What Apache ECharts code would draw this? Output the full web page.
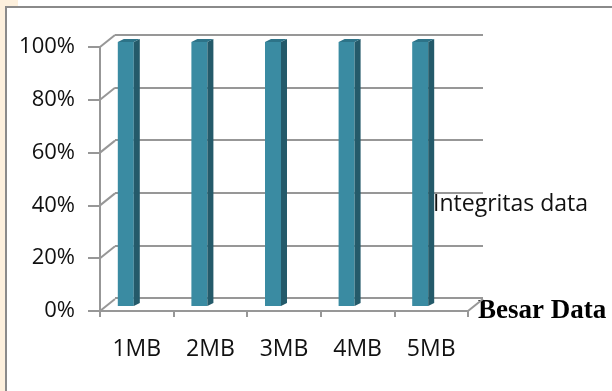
<!DOCTYPE html>
<html>
<head>
<meta charset="utf-8">
<script src="https://cdn.jsdelivr.net/npm/echarts@6/dist/echarts.min.js"></script>
<style>
  html, body { margin: 0; padding: 0; background: #ffffff; }
  #chart { width: 612px; height: 391px; }
</style>
</head>
<body>
<div id="chart"></div>
<script>
// Data
const categories = ['1MB', '2MB', '3MB', '4MB', '5MB'];
const integritas = [1, 1, 1, 1, 1];
const seriesName = 'Integritas data';
const axisName = 'Besar Data';
const yTickLabels = ['0%', '20%', '40%', '60%', '80%', '100%'];

// Oblique "3D" look: the back wall sits up and to the right of the front axes
const DEPTH_X = 15, DEPTH_Y = 12;
const FRONT = { left: 100, top: 47, width: 368, height: 264 };
const BAR_W = 16, BAR_SHIFT = -11, BAR_LIFT = 5, SIDE_DX = 6, SIDE_DY = 3;
const GRID_GRAY = '#979797';
const TEXT = '#111111';
const FONT = '"Open Sans", "Noto Sans", sans-serif';

const chart = echarts.init(document.getElementById('chart'), null, { renderer: 'canvas' });

const option = {
  backgroundColor: '#ffffff',
  animation: false,
  grid: [
    { // back wall
      left: FRONT.left + DEPTH_X, top: FRONT.top - DEPTH_Y,
      width: FRONT.width, height: FRONT.height - 1
    },
    { // front axes
      left: FRONT.left, top: FRONT.top, width: FRONT.width, height: FRONT.height
    }
  ],
  xAxis: [
    {
      gridIndex: 0, type: 'category', data: categories,
      axisLine: { show: false }, axisTick: { show: false }, axisLabel: { show: false }
    },
    {
      gridIndex: 1, type: 'category', data: categories,
      axisLine: { show: true, lineStyle: { color: GRID_GRAY, width: 2 } },
      axisTick: { show: true, length: 6, lineStyle: { color: GRID_GRAY, width: 2 } },
      axisLabel: { margin: 27, color: TEXT, fontFamily: FONT, fontSize: 23 },
      name: axisName, nameLocation: 'end', nameGap: 10,
      nameTextStyle: {
        fontFamily: '"Liberation Serif", "Times New Roman", serif',
        fontWeight: 'bold', fontSize: 27, color: '#000000',
        verticalAlign: 'middle', padding: [4, 0, 0, 0]
      }
    }
  ],
  yAxis: [
    {
      gridIndex: 0, type: 'value', min: 0, max: 1, interval: 0.2,
      axisLine: { show: false }, axisTick: { show: false }, axisLabel: { show: false },
      splitLine: { show: true, lineStyle: { color: GRID_GRAY, width: 2 } }
    },
    {
      gridIndex: 1, type: 'value', min: 0, max: 1, interval: 0.2,
      axisLine: { show: true, lineStyle: { color: GRID_GRAY, width: 2 } },
      axisTick: { show: true, length: 12, lineStyle: { color: GRID_GRAY, width: 2 } },
      splitLine: { show: false },
      axisLabel: {
        margin: 25, color: TEXT, fontFamily: FONT, fontSize: 22,
        formatter: v => yTickLabels[Math.round(v * 5)]
      }
    }
  ],
  graphic: [
    // page frame: cream margin strip and grey border
    { type: 'rect', shape: { x: 0, y: 0, width: 5, height: 391 }, style: { fill: '#fdf0dd' }, silent: true },
    { type: 'rect', shape: { x: 0, y: 0, width: 18, height: 6 }, style: { fill: '#fdf0dd' }, silent: true },
    { type: 'line', shape: { x1: 6, y1: 6, x2: 6, y2: 391 }, style: { stroke: '#8a8a8a', lineWidth: 2 }, silent: true },
    { type: 'line', shape: { x1: 5, y1: 7, x2: 612, y2: 7 }, style: { stroke: '#8a8a8a', lineWidth: 2 }, silent: true },
    {
      type: 'text', left: 433, top: 193, z: 10,
      style: { text: seriesName, fill: TEXT, font: '23px ' + FONT }
    }
  ],
  series: [
    { // depth connectors between the front axes and the back wall
      type: 'custom', xAxisIndex: 1, yAxisIndex: 1, silent: true, z: 1,
      data: yTickLabels.map((_, i) => [0, i / 5]),
      renderItem: (params, api) => {
        const cs = params.coordSys;
        const y = api.coord([0, api.value(1)])[1];
        const children = [{
          type: 'line',
          shape: { x1: cs.x, y1: y, x2: cs.x + DEPTH_X, y2: y - DEPTH_Y },
          style: { stroke: GRID_GRAY, lineWidth: 2 }
        }];
        if (params.dataIndex === 0) {
          children.push({
            type: 'line',
            shape: { x1: cs.x + cs.width, y1: y, x2: cs.x + cs.width + DEPTH_X, y2: y - DEPTH_Y },
            style: { stroke: GRID_GRAY, lineWidth: 2 }
          });
        }
        return { type: 'group', children };
      }
    },
    {
      name: seriesName, type: 'custom', xAxisIndex: 1, yAxisIndex: 1, z: 5,
      data: integritas.map((v, i) => [i, v]),
      renderItem: (params, api) => {
        const p = api.coord([api.value(0), api.value(1)]);
        const b = api.coord([api.value(0), 0]);
        const x0 = p[0] + BAR_SHIFT - BAR_W / 2, x1 = x0 + BAR_W;
        const top = p[1] - BAR_LIFT, bottom = b[1] - BAR_LIFT;
        return {
          type: 'group',
          children: [
            { type: 'rect', shape: { x: x0, y: top, width: BAR_W, height: bottom - top },
              style: { fill: '#3a8ba2' } },
            { type: 'polygon',
              shape: { points: [[x1, top], [x1 + SIDE_DX, top - SIDE_DY], [x1 + SIDE_DX, bottom - SIDE_DY], [x1, bottom]] },
              style: { fill: '#245a6a' } },
            { type: 'polygon',
              shape: { points: [[x0, top], [x0 + SIDE_DX, top - SIDE_DY], [x1 + SIDE_DX, top - SIDE_DY], [x1, top]] },
              style: { fill: '#2d7388' } }
          ]
        };
      }
    }
  ]
};

chart.setOption(option);
</script>
</body>
</html>
